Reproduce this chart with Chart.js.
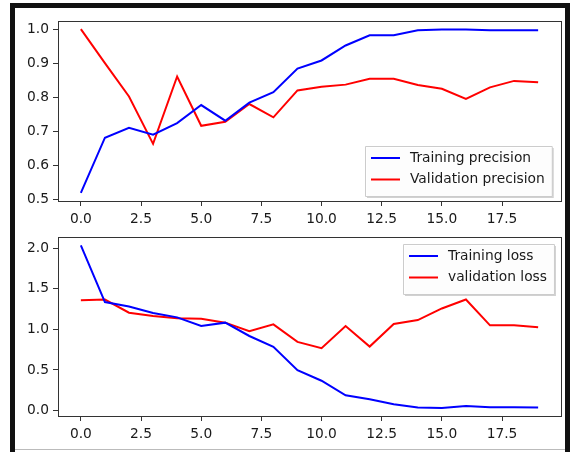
<!doctype html>
<html>
<head>
<meta charset="utf-8">
<title>precision / loss</title>
<script src="https://cdn.jsdelivr.net/npm/chart.js@4"></script>
<style>
  html, body { margin: 0; padding: 0; background: #fff; }
  #page { position: relative; width: 572px; height: 452px; overflow: hidden; }
  #frame { position: absolute; left: 10px; top: 3px; width: 550px; height: 460px;
           border-top: 5px solid #111; border-left: 5px solid #111; border-right: 5px solid #111; }
  #bottomline { position: absolute; left: 15px; top: 449px; width: 550px; height: 1px; background: #bbb; }
  canvas { position: absolute; left: 0; }
</style>
</head>
<body>
<div id="page">
  <div id="frame"></div>
  <div id="bottomline"></div>
  <canvas id="precChart" width="572" height="225" style="top:0"></canvas>
  <canvas id="lossChart" width="572" height="227" style="top:225px"></canvas>
</div>
<script>
// values
var epochs = [0,1,2,3,4,5,6,7,8,9,10,11,12,13,14,15,16,17,18,19];
var trainPrec = [0.519,0.681,0.710,0.690,0.724,0.777,0.731,0.784,0.815,0.884,0.908,0.952,0.982,0.982,0.997,0.999,0.999,0.997,0.997,0.997];
var valPrec   = [1.000,0.900,0.802,0.663,0.861,0.716,0.728,0.780,0.741,0.820,0.831,0.837,0.854,0.854,0.836,0.825,0.795,0.829,0.848,0.844];
var trainLoss = [2.033,1.335,1.282,1.200,1.147,1.041,1.082,0.918,0.784,0.496,0.367,0.188,0.139,0.078,0.037,0.033,0.057,0.041,0.041,0.037];
var valLoss   = [1.359,1.367,1.204,1.163,1.135,1.131,1.082,0.976,1.061,0.845,0.767,1.041,0.788,1.065,1.114,1.257,1.367,1.049,1.049,1.024];
var xTicks = [0,2.5,5,7.5,10,12.5,15,17.5];
var precTicks = [0.5,0.6,0.7,0.8,0.9,1.0];
var lossTicks = [0,0.5,1.0,1.5,2.0];

var FONT = { family: 'DejaVu Sans', size: 13.8 };
var INK = '#1a1a1a';

function pts(ys) {
  return epochs.map(function(x, i) { return { x: x, y: ys[i] }; });
}

// matplotlib style legend box drawn inside the plot area
var boxLegend = {
  id: 'boxLegend',
  afterDraw: function(chart, args, opts) {
    var ctx = chart.ctx;
    ctx.save();
    ctx.font = FONT.size + 'px ' + FONT.family;
    var w = 0;
    chart.data.datasets.forEach(function(ds) { w = Math.max(w, ctx.measureText(ds.label).width); });
    var bw = w + 52, bh = 50;
    var x0 = opts.x, y0 = opts.y;
    // shadow
    ctx.fillStyle = 'rgba(0,0,0,0.18)';
    ctx.fillRect(x0 + 2, y0 + 2, bw, bh);
    ctx.fillStyle = 'rgba(255,255,255,0.95)';
    ctx.strokeStyle = '#ccc';
    ctx.lineWidth = 1;
    ctx.beginPath();
    ctx.rect(x0 + 0.5, y0 + 0.5, bw, bh);
    ctx.fill();
    ctx.stroke();
    chart.data.datasets.forEach(function(ds, i) {
      var yy = y0 + 12 + i * 21.5;
      ctx.strokeStyle = ds.borderColor;
      ctx.lineWidth = 2;
      ctx.beginPath();
      ctx.moveTo(x0 + 6, yy);
      ctx.lineTo(x0 + 35, yy);
      ctx.stroke();
      ctx.fillStyle = INK;
      ctx.textBaseline = 'middle';
      ctx.fillText(ds.label, x0 + 45, yy);
    });
    ctx.restore();
  }
};

function makeChart(id, sets, ymin, ymax, yTicks, yFmt, pad, legendPos) {
  return new Chart(document.getElementById(id), {
    type: 'line',
    data: {
      datasets: sets.map(function(s) {
        return { label: s[0], data: pts(s[1]), borderColor: s[2], borderWidth: 2,
                 pointRadius: 0, tension: 0, fill: false };
      })
    },
    options: {
      responsive: false,
      animation: false,
      layout: { padding: pad },
      plugins: { legend: { display: false }, tooltip: { enabled: false }, boxLegend: legendPos },
      scales: {
        x: {
          type: 'linear', min: -0.95, max: 19.95,
          afterBuildTicks: function(s) { s.ticks = xTicks.map(function(v) { return { value: v }; }); },
          afterFit: function(s) { s.height = 24; },
          grid: { drawOnChartArea: false, drawTicks: true, tickLength: 5, color: '#333' },
          border: { display: true, color: '#333', width: 1 },
          ticks: { font: FONT, color: INK, padding: 5, maxRotation: 0,
                   callback: function(v) { return v.toFixed(1); } }
        },
        y: {
          min: ymin, max: ymax,
          afterBuildTicks: function(s) { s.ticks = yTicks.map(function(v) { return { value: v }; }); },
          afterFit: function(s) { s.width = 58; },
          grid: { drawOnChartArea: false, drawTicks: true, tickLength: 5, color: '#333' },
          border: { display: true, color: '#333', width: 1 },
          ticks: { font: FONT, color: INK, padding: 4, callback: yFmt }
        }
      }
    },
    plugins: [boxLegend, {
      id: 'spines',
      afterDraw: function(chart) {
        var a = chart.chartArea, ctx = chart.ctx;
        ctx.save();
        ctx.strokeStyle = '#333';
        ctx.lineWidth = 1;
        ctx.strokeRect(Math.round(a.left) + 0.5, Math.round(a.top) + 0.5,
                       Math.round(a.right - a.left), Math.round(a.bottom - a.top));
        ctx.restore();
      }
    }]
  });
}

makeChart('precChart',
  [['Training precision', trainPrec, '#0000ff'], ['Validation precision', valPrec, '#ff0000']],
  0.495, 1.024, precTicks, function(v) { return v.toFixed(1); },
  { left: 0, right: 11, top: 21, bottom: 0 },
  { x: 365, y: 146 });

makeChart('lossChart',
  [['Training loss', trainLoss, '#0000ff'], ['validation loss', valLoss, '#ff0000']],
  -0.067, 2.133, lossTicks, function(v) { return v.toFixed(1); },
  { left: 0, right: 11, top: 11, bottom: 12 },
  { x: 403, y: 19 });
</script>
</body>
</html>
